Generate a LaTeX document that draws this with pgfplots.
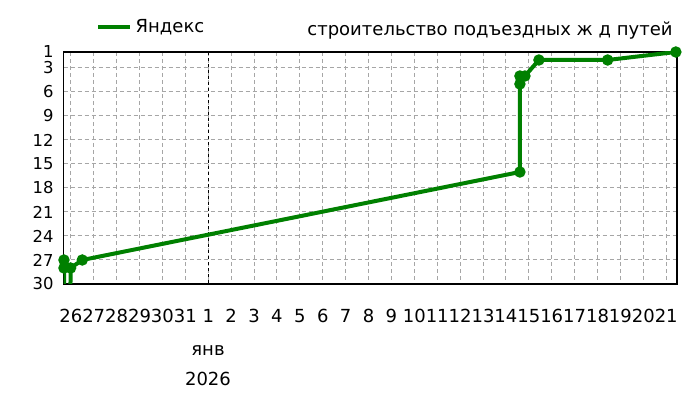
\documentclass[border=0pt]{standalone}
\usepackage{pgfplots}
\pgfplotsset{compat=1.18}
\usepackage{fontspec}
\setmainfont{DejaVu Sans}
\definecolor{lgreen}{RGB}{0,128,0}
\begin{document}
\begin{tikzpicture}[x=1pt,y=1pt]
\useasboundingbox (0,0) rectangle (350,200);
\begin{axis}[
 at={(31.75pt,58pt)}, anchor=south west,
 scale only axis, width=306.75pt, height=116pt,
 xmin=-6.32, xmax=20.47, ymin=1, ymax=30, y dir=reverse,
 xtick={-6,...,20},
 xticklabels={26,27,28,29,30,31,1,2,3,4,5,6,7,8,9,10,11,12,13,14,15,16,17,18,19,20,21},
 ytick={1,3,6,9,12,15,18,21,24,27,30},
 major tick length=0pt,
 grid=major,
 grid style={gray!70, line width=0.5pt, dash pattern=on 2pt off 1.5pt},
 axis line style={line width=0.7pt},
 /pgf/number format/assume math mode=true,
 xticklabel style={font=\fontsize{9}{10}\selectfont, anchor=base, yshift=-19.35pt, inner sep=0pt},
 yticklabel style={font=\fontsize{8.2}{10}\selectfont, anchor=east, xshift=-4.75pt, inner sep=0pt},
 extra x ticks={0}, extra x tick labels={},
 extra x tick style={grid style={black, line width=0.5pt, dash pattern=on 1.5pt off 1.5pt}},
 legend style={draw=none, fill=none, at={(axis description cs:0.053,1.1065)}, anchor=west,
   font=\fontsize{9}{10}\selectfont, inner sep=0pt},
 legend image code/.code={\draw[lgreen, line width=2pt] (0pt,0pt) -- (15.65pt,0pt);},
]
\addplot[lgreen, line width=2pt, mark=*, mark size=1.8pt, mark options={solid}] coordinates {
 (-6.30,27) (-6.30,28) (-6.24,40) (-6.04,40) (-6.01,28) (-5.50,27)
 (13.61,16) (13.61,5) (13.61,4) (13.83,4) (14.44,2) (17.44,2) (20.42,1)
};
\addlegendentry{Яндекс}
\end{axis}
\node[anchor=base west, inner sep=0pt, font=\fontsize{9}{10}\selectfont] at (153.5,182) {строительство подъездных ж д путей};
\node[anchor=base, inner sep=0pt, font=\fontsize{9}{10}\selectfont] at (104,22) {янв};
\node[anchor=base, inner sep=0pt, font=\fontsize{9}{10}\selectfont] at (104,7) {2026};
\end{tikzpicture}
\end{document}
